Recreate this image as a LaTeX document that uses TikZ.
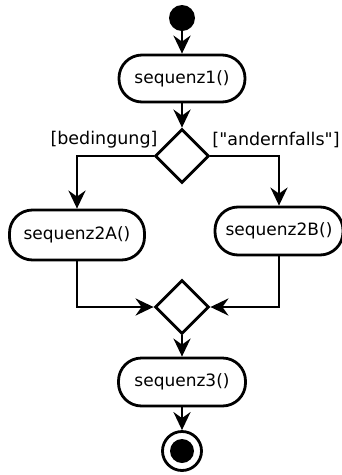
\documentclass[tikz,border=0pt]{standalone}
\usepackage{fontspec}
\setmainfont{DejaVu Sans}
\newfontfamily\plaindv{DejaVu Sans}
\usetikzlibrary{arrows.meta,shapes.geometric}
\begin{document}
\begin{tikzpicture}[x=1pt,y=-1pt,
 act/.style={draw, line width=2.8pt, rounded corners=23pt, minimum height=47pt, inner sep=0pt, font=\plaindv\fontsize{17}{20}\selectfont},
 dec/.style={draw, line width=2.8pt, diamond, minimum width=54pt, minimum height=54pt, inner sep=0pt},
 flow/.style={line width=2.8pt, -{Stealth[length=18pt,width=17pt,inset=6pt]}},
 lbl/.style={font=\plaindv\fontsize{17.5}{20}\selectfont, inner sep=0pt}]
\useasboundingbox (0,0) rectangle (342,475);
\node[circle, fill, minimum size=26pt, inner sep=0pt] (start) at (182,18) {};
\node[act, minimum width=126pt] (s1) at (182,78.5) {sequenz1()};
\node[dec] (d1) at (182,156) {};
\node[act, minimum width=135pt, minimum height=50pt] (s2a) at (77,235) {sequenz2A()};
\node[act, minimum width=128pt, minimum height=48pt] (s2b) at (279,231) {sequenz2B()};
\node[dec] (d2) at (182,307) {};
\node[act, minimum width=127pt, minimum height=48pt] (s3) at (182,382) {sequenz3()};
\node[circle, draw, line width=2.8pt, minimum size=39pt, inner sep=0pt] (end) at (182,451) {};
\node[circle, fill, minimum size=24pt, inner sep=0pt] (endin) at (182,451) {};
\node[lbl] (lb1) at (104,140) {[bedingung]};
\node[lbl] (lb2) at (276,140) {["andernfalls"]};
\draw[flow] (start) -- (s1);
\draw[flow] (s1) -- (d1);
\draw[flow] (d1.west) -| (s2a);
\draw[flow] (d1.east) -| (s2b);
\draw[flow] (s2a) |- (d2.west);
\draw[flow] (s2b) |- (d2.east);
\draw[flow] (d2) -- (s3);
\draw[flow] (s3) -- (end);
\end{tikzpicture}
\end{document}
